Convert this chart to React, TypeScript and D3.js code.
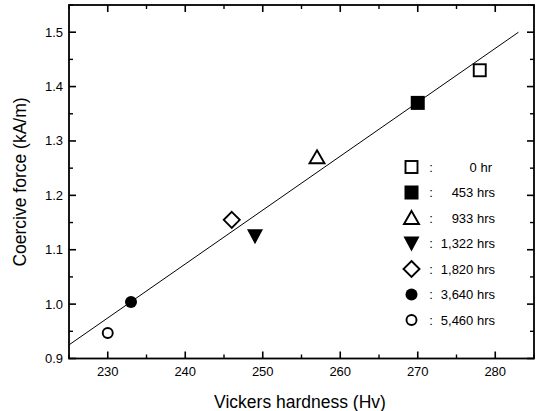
import React from "react";
import * as d3 from "d3";

const seriesLabels = ["0 hr", "453 hrs", "933 hrs", "1,322 hrs", "1,820 hrs", "3,640 hrs", "5,460 hrs"];
const hardness = [278, 270, 257, 249, 246, 233, 230];
const coercive = [1.43, 1.37, 1.27, 1.125, 1.155, 1.004, 0.947];
const markerTypes = ["squareOpen", "squareFilled", "triangleOpen", "triangleDownFilled", "diamondOpen", "circleFilled", "circleOpen"];
const fitX = [225, 283];
const fitY = [0.925, 1.5];
const xTicks = [230, 240, 250, 260, 270, 280];
const yTicks = [0.9, 1.0, 1.1, 1.2, 1.3, 1.4, 1.5];

const W = 540, H = 411;
const left = 69, right = 534, top = 5, bottom = 358.5;
const FONT = "'Liberation Sans', Arial, sans-serif";

function Marker({ type, x, y }: { type: string; x: number; y: number }) {
  const sw = 1.9;
  switch (type) {
    case "squareOpen":
      return <rect x={x - 6} y={y - 6} width={12} height={12} fill="#fff" stroke="#000" strokeWidth={sw} />;
    case "squareFilled":
      return <rect x={x - 7} y={y - 7} width={14} height={14} fill="#000" />;
    case "triangleOpen":
      return <path d={`M${x},${y - 7} L${x + 7.5},${y + 6} L${x - 7.5},${y + 6} Z`} fill="#fff" stroke="#000" strokeWidth={sw} strokeLinejoin="miter" />;
    case "triangleDownFilled":
      return <path d={`M${x - 8},${y - 7} L${x + 8},${y - 7} L${x},${y + 8} Z`} fill="#000" />;
    case "diamondOpen":
      return <path d={`M${x},${y - 8} L${x + 8},${y} L${x},${y + 8} L${x - 8},${y} Z`} fill="#fff" stroke="#000" strokeWidth={sw} />;
    case "circleFilled":
      return <circle cx={x} cy={y} r={6} fill="#000" />;
    case "circleOpen":
      return <circle cx={x} cy={y} r={5} fill="#fff" stroke="#000" strokeWidth={sw} />;
  }
  return null;
}

export default function App() {
  const x = d3.scaleLinear().domain([225, 285]).range([left, right]);
  const y = d3.scaleLinear().domain([0.9, 1.55]).range([bottom, top]);
  const xMinor = d3.range(225, 286, 5).filter((v) => v % 10 !== 0);
  const yMinor = d3.range(0.95, 1.56, 0.1).map((v) => +v.toFixed(2));
  const line = d3.line<number>().x((d, i) => x(fitX[i])).y((d, i) => y(fitY[i]));
  const legendY0 = 167;
  const legendDy = 25.5;

  return (
    <svg width={W} height={H} style={{ position: "absolute", left: 0, top: 0, background: "#fff" }} fontFamily={FONT}>
      <rect x={0} y={0} width={W} height={H} fill="#fff" />
      <path d={line(fitX) || ""} fill="none" stroke="#000" strokeWidth={1} />
      <rect x={left} y={top} width={right - left} height={bottom - top} fill="none" stroke="#000" strokeWidth={1.8} />
      {xTicks.map((t) => (
        <g key={"xt" + t}>
          <line x1={x(t)} x2={x(t)} y1={bottom} y2={bottom - 7} stroke="#000" strokeWidth={1.6} />
          <line x1={x(t)} x2={x(t)} y1={top} y2={top + 7} stroke="#000" strokeWidth={1.6} />
          <text x={x(t)} y={376} textAnchor="middle" fontSize={13}>{t}</text>
        </g>
      ))}
      {xMinor.map((t) => (
        <g key={"xm" + t}>
          <line x1={x(t)} x2={x(t)} y1={bottom} y2={bottom - 4} stroke="#000" strokeWidth={1.4} />
          <line x1={x(t)} x2={x(t)} y1={top} y2={top + 4} stroke="#000" strokeWidth={1.4} />
        </g>
      ))}
      {yTicks.map((t) => (
        <g key={"yt" + t}>
          <line x1={left} x2={left + 7} y1={y(t)} y2={y(t)} stroke="#000" strokeWidth={1.6} />
          <line x1={right} x2={right - 7} y1={y(t)} y2={y(t)} stroke="#000" strokeWidth={1.6} />
          <text x={63} y={y(t) + 4.5} textAnchor="end" fontSize={13}>{t.toFixed(1)}</text>
        </g>
      ))}
      {yMinor.map((t) => (
        <g key={"ym" + t}>
          <line x1={left} x2={left + 4} y1={y(t)} y2={y(t)} stroke="#000" strokeWidth={1.4} />
          <line x1={right} x2={right - 4} y1={y(t)} y2={y(t)} stroke="#000" strokeWidth={1.4} />
        </g>
      ))}
      <text x={300} y={408} textAnchor="middle" fontSize={17.5}>Vickers hardness (Hv)</text>
      <text transform={`translate(26, 182) rotate(-90)`} textAnchor="middle" fontSize={17.5}>Coercive force (kA/m)</text>
      {hardness.map((h, i) => (
        <Marker key={"m" + i} type={markerTypes[i]} x={x(h)} y={y(coercive[i])} />
      ))}
      {seriesLabels.map((lab, i) => {
        const ly = legendY0 + i * legendDy;
        return (
          <g key={"lg" + i}>
            <Marker type={markerTypes[i]} x={411.5} y={ly} />
            <text x={431} y={ly + 4.5} fontSize={13} textAnchor="middle">:</text>
            <text x={i === 0 ? 492 : 495} y={ly + 4.5} fontSize={13} textAnchor="end">{lab}</text>
          </g>
        );
      })}
    </svg>
  );
}
